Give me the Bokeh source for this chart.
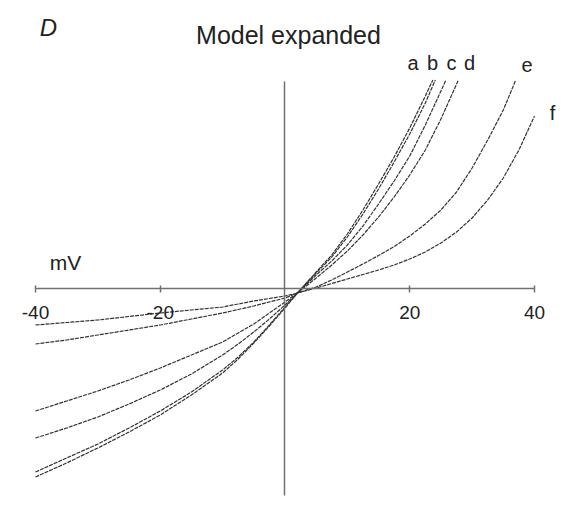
from bokeh.plotting import figure
from bokeh.models import LinearAxis, FixedTicker, Range1d, Label
from bokeh.embed import file_html
from bokeh.resources import INLINE

# Membrane potential (mV) shared by the left branches
v_left = [-40, -35, -30, -25, -20, -15, -10, -7.5, -5, -2.5, 0, 2]

# Model current (arbitrary units) for curves a-f
a_v = v_left + [5, 7.5, 10, 12.5, 15, 17.5, 20, 22.5, 23.7]
a_i = [-189, -175, -160, -144, -127, -107, -85, -71, -55, -38, -20, -5,
       16, 33, 54, 78, 104, 131, 160, 192, 208]

b_v = v_left + [5, 7.5, 10, 12.5, 15, 17.5, 20, 22.5, 24.1]
b_i = [-184, -170, -156, -140, -123, -104, -82, -69, -54, -37, -19, -5,
       15, 31, 51, 74, 99, 126, 154, 185, 208]

c_v = v_left + [5, 7.5, 10, 12.5, 15, 17.5, 20, 22.5, 25, 25.8]
c_i = [-150, -140, -129, -116, -102, -86, -67, -56, -44, -31, -17, -5,
       13, 27, 43, 62, 84, 107, 132, 163, 197, 208]

d_v = v_left + [5, 7.5, 10, 12.5, 15, 17.5, 20, 22.5, 25, 27.8]
d_i = [-123, -113, -103, -92, -80, -67, -54, -45, -36, -25, -14, -5,
       10, 23, 37, 53, 71, 91, 113, 138, 169, 208]

e_v = v_left + [5, 7.5, 10, 12.5, 15, 17.5, 20, 22.5, 25, 27.5, 30, 32.5, 35, 37]
e_i = [-56, -52, -47, -42, -37, -31, -25, -21.5, -18, -14, -10, -5,
       1, 8, 16, 24, 32.5, 41.5, 52, 64, 78, 96, 120, 148, 178, 208]

f_v = v_left + [5, 7.5, 10, 12.5, 15, 17.5, 20, 22.5, 25, 27.5, 30, 32.5, 35, 37.5, 40]
f_i = [-37, -34.5, -32, -28.5, -25, -22, -19, -16, -13, -10.5, -8, -5,
       0, 4.5, 9, 13.5, 18, 23, 29, 36, 45, 56, 70, 88, 110, 138, 172]

x_ticks = [-40, -20, 20, 40]
x_tick_labels = {-40: "-40", -20: "-20", 20: "20", 40: "40"}
curve_names = ["a", "b", "c", "d", "e", "f"]

FONT = "Liberation Sans"

p = figure(width=565, height=515, output_backend="svg", toolbar_location=None,
           x_range=Range1d(-45.61, 44.97), y_range=Range1d(-227.5, 287.5),
           x_axis_location=None, y_axis_location=None, min_border=0)
p.outline_line_color = None
p.background_fill_color = "white"
p.border_fill_color = "white"
p.xgrid.grid_line_color = None
p.ygrid.grid_line_color = None

xaxis = LinearAxis(fixed_location=0, ticker=FixedTicker(ticks=x_ticks), bounds=(-40, 40),
                   axis_line_color="#707070", axis_line_width=1.5,
                   major_tick_line_color="#707070", major_tick_line_width=1.5,
                   major_tick_in=3, major_tick_out=4, minor_tick_line_color=None,
                   major_label_overrides=x_tick_labels,
                   major_label_text_font=FONT, major_label_text_font_size="19px",
                   major_label_text_color="#222222", major_label_standoff=14)
p.add_layout(xaxis, "below")

yaxis = LinearAxis(fixed_location=0, ticker=FixedTicker(ticks=[]), bounds=(-207, 207),
                   axis_line_color="#707070", axis_line_width=1.5,
                   major_tick_line_color=None, minor_tick_line_color=None,
                   major_label_text_font_size="0px")
p.add_layout(yaxis, "left")

line_kw = dict(line_color="#333333", line_width=1.2, line_dash="4 1")
for xs, ys in [(a_v, a_i), (b_v, b_i), (c_v, c_i), (d_v, d_i), (e_v, e_i), (f_v, f_i)]:
    p.line(xs, ys, **line_kw)

def px2x(px):
    return (px - 284.5) / 6.2375

def py2y(py):
    return 287.5 - py

label_pos = [(412.5, 62), (432, 62), (451, 62), (469, 62), (526.5, 64), (552, 112)]
for name, (lx, ly) in zip(curve_names, label_pos):
    p.add_layout(Label(x=px2x(lx), y=py2y(ly), text=name, text_font=FONT,
                       text_font_size="20px", text_align="center",
                       text_baseline="alphabetic", text_color="#222222"))

p.add_layout(Label(x=px2x(288), y=py2y(34), text="Model expanded", text_font=FONT,
                   text_font_size="25px", text_align="center",
                   text_baseline="alphabetic", text_color="#222222"))
p.add_layout(Label(x=px2x(48), y=py2y(27), text="D", text_font=FONT,
                   text_font_size="24px", text_font_style="italic", text_align="center",
                   text_baseline="alphabetic", text_color="#222222"))
p.add_layout(Label(x=px2x(65), y=py2y(262), text="mV", text_font=FONT,
                   text_font_size="21px", text_align="center",
                   text_baseline="alphabetic", text_color="#222222"))

open("out.html", "w").write(file_html(p, INLINE))
